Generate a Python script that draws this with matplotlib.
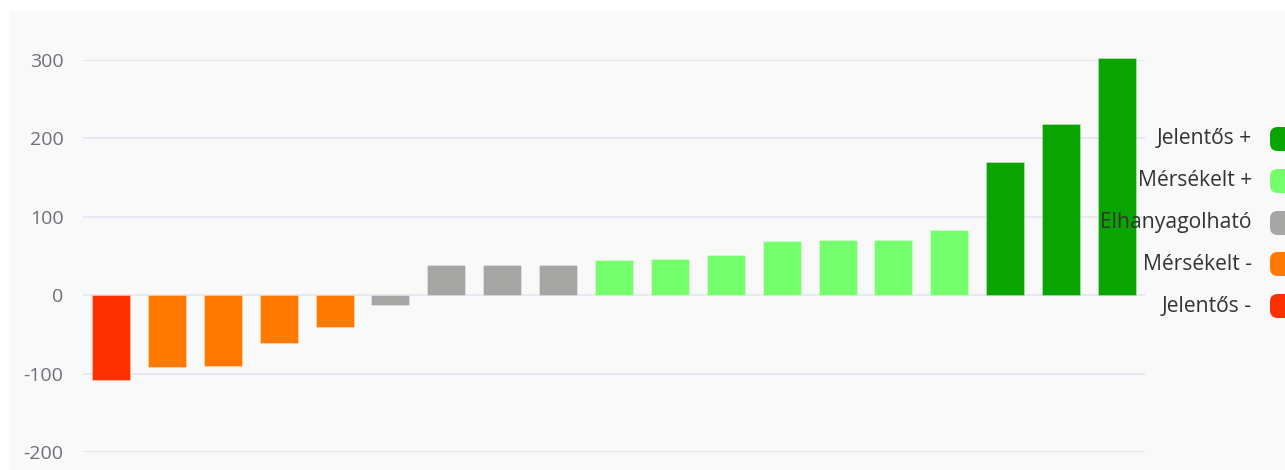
import matplotlib
matplotlib.use("Agg")
import matplotlib.pyplot as plt
from matplotlib.patches import Rectangle, FancyBboxPatch

plt.rcParams['font.family'] = ['Open Sans', 'DejaVu Sans']

categories = [f"c{i}" for i in range(1, 20)]
values = [-108, -91, -90, -61, -40, -13, 39, 39, 39, 45, 46, 51, 69, 70, 71, 83, 170, 219, 302]
groups = ["Jelentős -", "Mérsékelt -", "Mérsékelt -", "Mérsékelt -", "Mérsékelt -",
          "Elhanyagolható", "Elhanyagolható", "Elhanyagolható", "Elhanyagolható",
          "Mérsékelt +", "Mérsékelt +", "Mérsékelt +", "Mérsékelt +", "Mérsékelt +",
          "Mérsékelt +", "Mérsékelt +", "Jelentős +", "Jelentős +", "Jelentős +"]
legend_names = ["Jelentős +", "Mérsékelt +", "Elhanyagolható", "Mérsékelt -", "Jelentős -"]
colors = {"Jelentős +": "#0aa400", "Mérsékelt +": "#76ff6c", "Elhanyagolható": "#a6a6a4",
          "Mérsékelt -": "#ff7800", "Jelentős -": "#ff3000"}
yticks = [-200, -100, 0, 100, 200, 300]

W, H = 1285, 470
fig = plt.figure(figsize=(W / 100, H / 100), dpi=100)
fig.patch.set_facecolor("white")
fig.add_artist(Rectangle((9 / W, 0), 1 - 9 / W, (H - 11) / H, transform=fig.transFigure,
                         facecolor="#f9f9f9", edgecolor="none", zorder=0))

ax = fig.add_axes([83 / W, (H - 452) / H, (1145 - 83) / W, (452 - 60) / H])
ax.set_facecolor("none")
x = list(range(len(categories)))
bars = ax.bar(x, values, width=0.68, color=[colors[g] for g in groups],
              edgecolor="#ffffff55", linewidth=0.6, zorder=3)
for b in bars:
    b.set_clip_on(False)
ax.set_xlim(-0.5, len(categories) - 0.5)
ax.set_ylim(-200, 300)
ax.set_yticks(yticks)
ax.set_yticklabels([str(t) for t in yticks])
ax.set_xticks([])
for s in ax.spines.values():
    s.set_visible(False)
ax.grid(axis="y", color="#e0e6f1", linewidth=1.2, zorder=0)
ax.tick_params(axis="y", length=0, pad=14, labelsize=14, labelcolor="#6e7079")

leg_y = [139, 181, 223, 264, 306]
for name, yy in zip(legend_names, leg_y):
    fig.text(1252 / W, (H - yy) / H, name, ha="right", va="center",
             fontsize=15.2, color="#333333")
    fig.add_artist(FancyBboxPatch((1270 / W, (H - yy - 12) / H), 25 / W, 24 / H,
                                  boxstyle="round,pad=0,rounding_size=0.006",
                                  transform=fig.transFigure, facecolor=colors[name],
                                  edgecolor="none", mutation_aspect=W / H))

fig.savefig("out.png", dpi=100)
